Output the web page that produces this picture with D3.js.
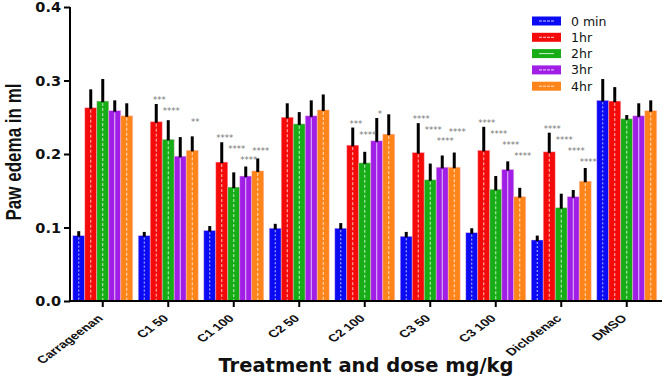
<!DOCTYPE html>
<html>
<head>
<meta charset="utf-8">
<script src="https://cdn.jsdelivr.net/npm/d3@7"></script>
<style>
  body { margin: 0; background: #fff; }
  svg { display: block; }
</style>
</head>
<body>
<div id="chart"></div>
<script>
// groups on the x axis
const categories = ["Carrageenan", "C1 50", "C1 100", "C2 50", "C2 100", "C3 50", "C3 100", "Diclofenac", "DMSO"];
const seriesNames = ["0 min", "1hr", "2hr", "3hr", "4hr"];
const yTicks = [0, 0.1, 0.2, 0.3, 0.4];

// mean paw edema (ml) per time point, one value per group
const min0 = [0.089, 0.089, 0.096, 0.099, 0.099, 0.088, 0.093, 0.083, 0.273];
const hr1  = [0.263, 0.244, 0.189, 0.250, 0.212, 0.202, 0.205, 0.203, 0.272];
const hr2  = [0.272, 0.220, 0.155, 0.241, 0.188, 0.165, 0.152, 0.127, 0.248];
const hr3  = [0.259, 0.197, 0.170, 0.252, 0.218, 0.182, 0.179, 0.142, 0.252];
const hr4  = [0.252, 0.205, 0.177, 0.260, 0.227, 0.182, 0.142, 0.163, 0.259];

// error (SEM) per time point
const err0 = [0.006, 0.005, 0.006, 0.006, 0.007, 0.006, 0.006, 0.006, 0.029];
const err1 = [0.025, 0.024, 0.027, 0.019, 0.024, 0.040, 0.032, 0.026, 0.019];
const err2 = [0.030, 0.026, 0.020, 0.016, 0.015, 0.022, 0.018, 0.019, 0.005];
const err3 = [0.014, 0.026, 0.013, 0.021, 0.031, 0.016, 0.011, 0.009, 0.017];
const err4 = [0.017, 0.019, 0.017, 0.021, 0.027, 0.020, 0.012, 0.018, 0.014];

// significance marks for 1hr..4hr in each group
const stars = [
  ["", "", "", ""],
  ["***", "****", "", "**"],
  ["****", "****", "****", "****"],
  ["", "", "", ""],
  ["***", "****", "*", ""],
  ["****", "****", "****", "****"],
  ["****", "****", "****", "****"],
  ["****", "****", "****", "****"],
  ["", "", "", ""]
];

const colors = ["#0a0af5", "#f50a0a", "#17ad17", "#a01ee6", "#ff851a"];

const means = [min0, hr1, hr2, hr3, hr4];
const errs = [err0, err1, err2, err3, err4];

const W = 662, H = 377;
const margin = {top: 7, right: 3, bottom: 76, left: 70};
// the original figure is stretched sideways, so text gets widened too
const stretch = 1.35;

const svg = d3.select("#chart").append("svg")
  .attr("width", W)
  .attr("height", H);

const x = d3.scaleBand()
  .domain(categories)
  .range([margin.left, 659.5])
  .padding(0);

const xs = d3.scaleBand()
  .domain(seriesNames)
  .range([-30, 30])
  .padding(0);

const y = d3.scaleLinear()
  .domain([0, 0.4])
  .range([H - margin.bottom, margin.top]);

// flatten into bar records
const bars = [];
categories.forEach((c, i) => {
  seriesNames.forEach((s, j) => {
    bars.push({cat: c, ser: s, j: j, v: means[j][i], e: errs[j][i],
      star: j > 0 ? stars[i][j - 1] : ""});
  });
});

const bx = d => x(d.cat) + x.bandwidth() / 2 + xs(d.ser);

// stars step down like a staircase within a group so they don't collide
categories.forEach(c => {
  let prev = null;
  bars.filter(d => d.cat === c && d.star).forEach(d => {
    const own = y(d.v + d.e) - 6;
    let sy = prev === null ? own : Math.min(own, prev + 11);
    if (prev !== null && Math.abs(sy - prev) < 9) sy = prev - 9;
    d.sy = sy;
    prev = sy;
  });
});

// bars
svg.append("g").selectAll("rect")
  .data(bars)
  .join("rect")
  .attr("x", d => bx(d))
  .attr("y", d => y(d.v))
  .attr("width", xs.bandwidth())
  .attr("height", d => y(0) - y(d.v))
  .attr("fill", d => colors[d.j])
  .attr("stroke", "rgba(255,200,220,0.55)")
  .attr("stroke-width", 0.8);

// white dashed pattern line in the middle of each bar
svg.append("g").selectAll("line")
  .data(bars)
  .join("line")
  .attr("x1", d => bx(d) + xs.bandwidth() / 2)
  .attr("x2", d => bx(d) + xs.bandwidth() / 2)
  .attr("y1", d => y(d.v) + 2)
  .attr("y2", y(0))
  .attr("stroke", "#fff")
  .attr("stroke-opacity", 0.75)
  .attr("stroke-width", 1)
  .attr("stroke-dasharray", d => d.j === 3 ? null : (d.j === 0 ? "2,2" : "3,2"));

// error bars (upper half)
svg.append("g").selectAll("line")
  .data(bars)
  .join("line")
  .attr("x1", d => bx(d) + xs.bandwidth() / 2)
  .attr("x2", d => bx(d) + xs.bandwidth() / 2)
  .attr("y1", d => y(d.v) + 1)
  .attr("y2", d => y(d.v + d.e))
  .attr("stroke", "#000")
  .attr("stroke-width", 3);

// stars
svg.append("g").selectAll("text")
  .data(bars.filter(d => d.star))
  .join("text")
  .attr("x", d => bx(d) + xs.bandwidth() / 2 + 3)
  .attr("y", d => d.sy + 5)
  .attr("text-anchor", "middle")
  .attr("font-family", "DejaVu Sans")
  .attr("font-size", 8.5)
  .attr("fill", "#777")
  .text(d => d.star);

// y axis
const yAxis = svg.append("g")
  .attr("transform", `translate(${margin.left},0)`)
  .call(d3.axisLeft(y).tickValues(yTicks).tickFormat(d3.format(".1f")).tickSize(6).tickPadding(3));
yAxis.select(".domain").attr("stroke", "#000").attr("stroke-width", 2).attr("d", `M0,${y(0.4)}V${y(0)}`);
yAxis.selectAll(".tick line").attr("stroke", "#000").attr("stroke-width", 2);
yAxis.selectAll(".tick text")
  .attr("font-family", "DejaVu Sans")
  .attr("font-weight", "bold")
  .attr("font-size", 14.5)
  .attr("fill", "#111");

// x axis
const xAxis = svg.append("g")
  .attr("transform", `translate(0,${y(0)})`)
  .call(d3.axisBottom(x).tickSize(6).tickSizeOuter(0));
xAxis.select(".domain").attr("stroke", "#000").attr("stroke-width", 2).attr("d", `M${margin.left - 1},0H${W}`);
xAxis.selectAll(".tick line").attr("stroke", "#000").attr("stroke-width", 2);
xAxis.selectAll(".tick text")
  .attr("font-family", "Liberation Sans")
  .attr("font-weight", "bold")
  .attr("font-size", 10.5)
  .attr("fill", "#111")
  .attr("text-anchor", "end")
  .attr("dy", null)
  .attr("y", null)
  .attr("transform", `translate(1,18) scale(${stretch},1) rotate(-45)`);

// axis titles
svg.append("text")
  .attr("x", 366)
  .attr("y", 372)
  .attr("text-anchor", "middle")
  .attr("font-family", "DejaVu Sans")
  .attr("font-weight", "bold")
  .attr("font-size", 19.5)
  .attr("fill", "#111")
  .text("Treatment and dose mg/kg");

svg.append("text")
  .attr("transform", `translate(21,152) scale(${stretch},1) rotate(-90)`)
  .attr("text-anchor", "middle")
  .attr("font-family", "Liberation Sans")
  .attr("font-weight", "bold")
  .attr("font-size", 17)
  .attr("fill", "#111")
  .text("Paw edema in ml");

// legend
const legend = svg.append("g").selectAll("g")
  .data(seriesNames)
  .join("g")
  .attr("transform", (d, i) => `translate(532,${21 + i * 16.3})`);
legend.append("rect")
  .attr("x", 0).attr("y", -4.5)
  .attr("width", 29).attr("height", 9)
  .attr("fill", (d, i) => colors[i]);
legend.append("line")
  .attr("x1", 7).attr("x2", 22)
  .attr("y1", 0).attr("y2", 0)
  .attr("stroke", "#fff").attr("stroke-opacity", 0.8)
  .attr("stroke-dasharray", (d, i) => i === 2 ? null : "3,1");
legend.append("text")
  .attr("x", 39).attr("y", 4.5)
  .attr("font-family", "DejaVu Sans")
  .attr("font-size", 12.5)
  .attr("fill", "#111")
  .text(d => d);
</script>
</body>
</html>
